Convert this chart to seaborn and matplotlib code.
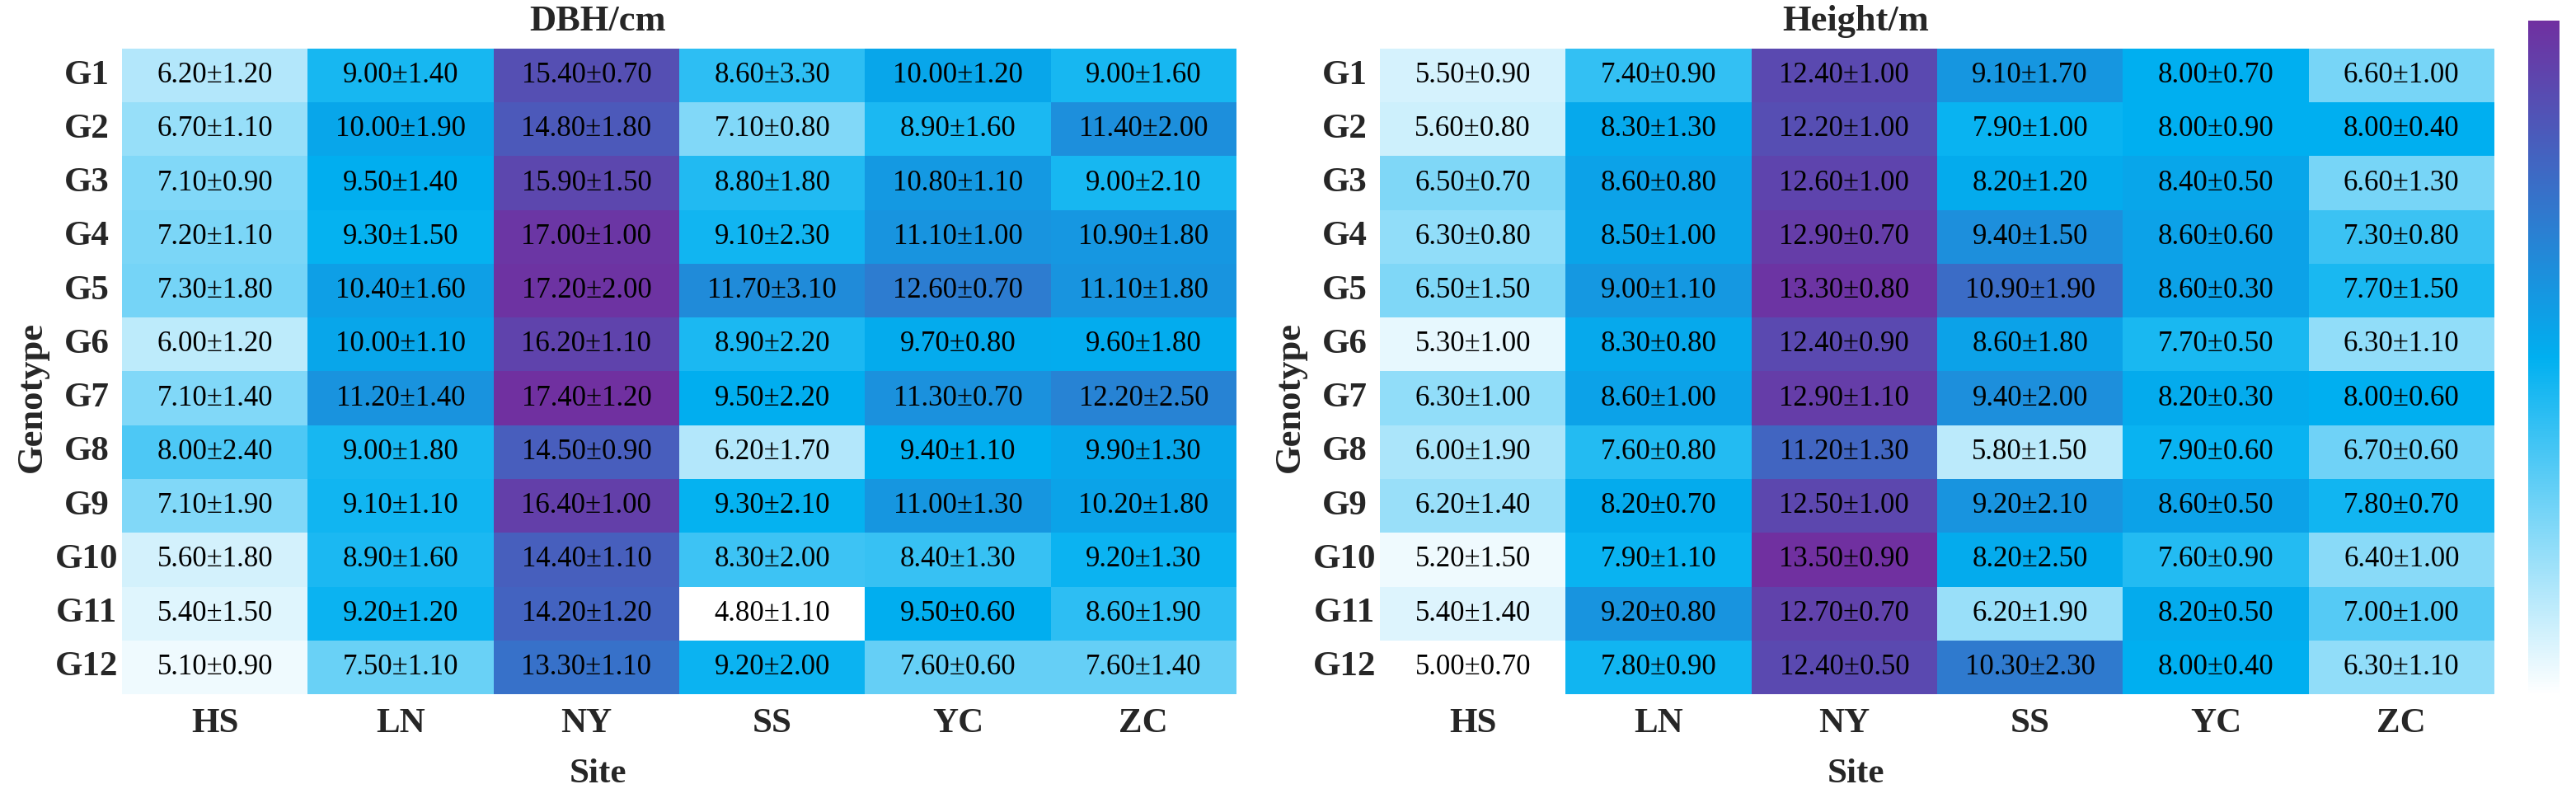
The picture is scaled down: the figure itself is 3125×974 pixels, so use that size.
import matplotlib
matplotlib.use('Agg')
import matplotlib.pyplot as plt
from matplotlib.colors import LinearSegmentedColormap, TwoSlopeNorm, Normalize
from matplotlib.cm import ScalarMappable
import numpy as np
import pandas as pd
import seaborn as sns

genotypes = ['G1', 'G2', 'G3', 'G4', 'G5', 'G6', 'G7', 'G8', 'G9', 'G10', 'G11', 'G12']
sites = ['HS', 'LN', 'NY', 'SS', 'YC', 'ZC']

dbh_mean = [
    [6.2, 9.0, 15.4, 8.6, 10.0, 9.0],
    [6.7, 10.0, 14.8, 7.1, 8.9, 11.4],
    [7.1, 9.5, 15.9, 8.8, 10.8, 9.0],
    [7.2, 9.3, 17.0, 9.1, 11.1, 10.9],
    [7.3, 10.4, 17.2, 11.7, 12.6, 11.1],
    [6.0, 10.0, 16.2, 8.9, 9.7, 9.6],
    [7.1, 11.2, 17.4, 9.5, 11.3, 12.2],
    [8.0, 9.0, 14.5, 6.2, 9.4, 9.9],
    [7.1, 9.1, 16.4, 9.3, 11.0, 10.2],
    [5.6, 8.9, 14.4, 8.3, 8.4, 9.2],
    [5.4, 9.2, 14.2, 4.8, 9.5, 8.6],
    [5.1, 7.5, 13.3, 9.2, 7.6, 7.6],
]
dbh_sd = [
    [1.2, 1.4, 0.7, 3.3, 1.2, 1.6],
    [1.1, 1.9, 1.8, 0.8, 1.6, 2.0],
    [0.9, 1.4, 1.5, 1.8, 1.1, 2.1],
    [1.1, 1.5, 1.0, 2.3, 1.0, 1.8],
    [1.8, 1.6, 2.0, 3.1, 0.7, 1.8],
    [1.2, 1.1, 1.1, 2.2, 0.8, 1.8],
    [1.4, 1.4, 1.2, 2.2, 0.7, 2.5],
    [2.4, 1.8, 0.9, 1.7, 1.1, 1.3],
    [1.9, 1.1, 1.0, 2.1, 1.3, 1.8],
    [1.8, 1.6, 1.1, 2.0, 1.3, 1.3],
    [1.5, 1.2, 1.2, 1.1, 0.6, 1.9],
    [0.9, 1.1, 1.1, 2.0, 0.6, 1.4],
]
height_mean = [
    [5.5, 7.4, 12.4, 9.1, 8.0, 6.6],
    [5.6, 8.3, 12.2, 7.9, 8.0, 8.0],
    [6.5, 8.6, 12.6, 8.2, 8.4, 6.6],
    [6.3, 8.5, 12.9, 9.4, 8.6, 7.3],
    [6.5, 9.0, 13.3, 10.9, 8.6, 7.7],
    [5.3, 8.3, 12.4, 8.6, 7.7, 6.3],
    [6.3, 8.6, 12.9, 9.4, 8.2, 8.0],
    [6.0, 7.6, 11.2, 5.8, 7.9, 6.7],
    [6.2, 8.2, 12.5, 9.2, 8.6, 7.8],
    [5.2, 7.9, 13.5, 8.2, 7.6, 6.4],
    [5.4, 9.2, 12.7, 6.2, 8.2, 7.0],
    [5.0, 7.8, 12.4, 10.3, 8.0, 6.3],
]
height_sd = [
    [0.9, 0.9, 1.0, 1.7, 0.7, 1.0],
    [0.8, 1.3, 1.0, 1.0, 0.9, 0.4],
    [0.7, 0.8, 1.0, 1.2, 0.5, 1.3],
    [0.8, 1.0, 0.7, 1.5, 0.6, 0.8],
    [1.5, 1.1, 0.8, 1.9, 0.3, 1.5],
    [1.0, 0.8, 0.9, 1.8, 0.5, 1.1],
    [1.0, 1.0, 1.1, 2.0, 0.3, 0.6],
    [1.9, 0.8, 1.3, 1.5, 0.6, 0.6],
    [1.4, 0.7, 1.0, 2.1, 0.5, 0.7],
    [1.5, 1.1, 0.9, 2.5, 0.9, 1.0],
    [1.4, 0.8, 0.7, 1.9, 0.5, 1.0],
    [0.7, 0.9, 0.5, 2.3, 0.4, 1.1],
]

sns.set_style('white')
plt.rcParams['font.family'] = ['Liberation Serif', 'DejaVu Serif']

cmap = LinearSegmentedColormap.from_list('wbp', ['#FFFFFF', '#00B0F0', '#7030A0'])

fig = plt.figure(figsize=(31.25, 9.74), dpi=100)
ax1 = fig.add_axes([0.0474, 0.1355, 0.4326, 0.804])
ax2 = fig.add_axes([0.5357, 0.1355, 0.4326, 0.804])
cax = fig.add_axes([0.9814, 0.1345, 0.0122, 0.840])


def draw(ax, mean, sd, title, center):
    df = pd.DataFrame(mean, index=genotypes, columns=sites)
    labels = np.array([[f'{m:.2f}±{s:.2f}' for m, s in zip(rm, rs)] for rm, rs in zip(mean, sd)])
    norm = TwoSlopeNorm(vmin=df.values.min(), vcenter=center, vmax=df.values.max())
    sns.heatmap(df, ax=ax, cmap=cmap, norm=norm, annot=labels, fmt='', cbar=False,
                annot_kws={'fontsize': 25, 'color': 'black'})
    ax.set_title(title, fontsize=32, fontweight='bold', x=0.427, pad=16)
    ax.set_xlabel('Site', fontsize=31, fontweight='bold')
    ax.set_ylabel('Genotype', fontsize=32, fontweight='bold')
    ax.xaxis.set_label_coords(0.427, -0.10)
    ax.yaxis.set_label_coords(-0.081, 0.46)
    ax.yaxis.label.set_va('center')
    ax.xaxis.label.set_va('top')
    ax.tick_params(axis='x', length=0, pad=12, labelsize=31)
    ax.tick_params(axis='y', length=0, pad=31, labelsize=31)
    for t in ax.get_xticklabels():
        t.set_fontweight('bold')
        t.set_rotation(0)
    for t in ax.get_yticklabels():
        t.set_fontweight('bold')
        t.set_rotation(0)
        t.set_ha('center')


draw(ax1, dbh_mean, dbh_sd, 'DBH/cm', 9.4)
draw(ax2, height_mean, height_sd, 'Height/m', 8.0)

cb = fig.colorbar(ScalarMappable(norm=Normalize(0, 1), cmap=cmap), cax=cax)
cb.set_ticks([])
cb.outline.set_visible(False)

fig.savefig('out.png', dpi=100)
